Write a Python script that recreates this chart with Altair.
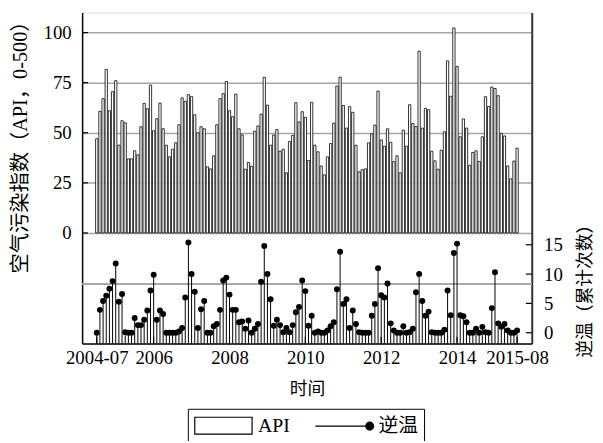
import altair as alt
import pandas as pd

# ---------------- data ----------------
months = pd.date_range("2004-07-01", periods=134, freq="MS").strftime("%Y-%m").tolist()

api = [
    47, 60.7, 67, 81.6, 61, 70.5, 76, 43.8, 56, 55,
    37, 37, 41, 39, 53, 64.6, 62, 73.8, 51, 57,
    64.8, 52, 43.8, 38, 41.8, 45, 54, 67.4, 65.7, 69,
    68, 59, 50, 53, 52, 33, 32, 38.5, 54, 67,
    69.5, 75.6,
    61, 58, 69.3, 52, 49, 31.8, 35.2, 33.3,
    50.8, 53.4, 59.3, 77.7, 63.8, 43.8, 48.9, 51.6, 40.8, 41.8,
    30, 45.6, 48.7, 65, 55.4, 60.5, 57.7, 36.2, 65.2, 43.8,
    40.5, 33.4, 29, 38, 44.6, 54.8, 73.3, 77.7, 63.6, 52.3,
    63, 60.2, 43.8, 30.5, 31.6, 32, 45, 49.5, 53.8,
    70.8, 46.4, 43.3, 52, 45.2, 35.6, 38.5, 30, 51.3, 43.3,
    64, 54.6, 53.1, 90.7, 52.3, 62.1, 61.5, 40.8, 36, 31.8,
    41.3, 50.5, 85.9, 68.2, 102.3, 83.1, 48, 56.9, 52.3, 33.8,
    40.2, 41, 35.7, 48, 68, 63.1, 72.8, 72.1, 68.5, 49.7,
    48.4, 33.4, 27, 35.9, 42.3,
]

inversion = [
    0, 3.9, 5.4, 6.3, 7.5, 8.8, 11.8, 5.3, 6.6, 0.1,
    0, 0, 2.5, 1.3, 1.3, 2.2, 3.8, 7.2, 9.9, 2.2,
    3.8, 3.2, 0, 0, 0, 0, 0.2, 0.8, 6, 15.4,
    10, 7, 0.8, 4, 5.4, 0, 0, 1.1, 1.5, 3.9,
    8.9, 9.4, 6.5, 3.9, 3.9, 1.8, 1.9, 0.7, 2.1, 0,
    0.7, 1.5, 8.7, 14.8, 10, 5.7, 1.2, 2.2, 1.3, 0.1,
    0.8, 0.1, 1.3, 3.5, 4.4, 8.9, 7.1, 1.2, 2.9, 0,
    0.2, 0, 0, 0.4, 1.1, 1.8, 7.4, 13.8, 4.9, 5.7,
    0.8, 3.8, 1.5, 0.1, 0, 0, 0, 2.9, 4.9, 11,
    6.4, 6, 8.4, 1.6, 0.4, 0, 0, 1.1, 0, 0.1,
    0.7, 6.9, 10, 5.4, 2.9, 3.6, 0.1, 0, 0, 0,
    0.5, 7.2, 3, 13.6, 15.2, 3, 2.8, 1.8, 0, 0,
    0.7, 0, 1, 0.1, 0, 4.2, 10.3, 1.6, 1, 1.5,
    0.4, 0, 0, 0.4,
]

x_tick_months = ["2004-07", "2006-01", "2008-01", "2010-01", "2012-01", "2014-01", "2015-08"]
x_tick_labels = ["2004-07", "2006", "2008", "2010", "2012", "2014", "2015-08"]
api_ticks = [0, 25, 50, 75, 100]
inv_ticks = [0, 5, 10, 15]
series = ["API", "逆温"]

# ---------------- tables ----------------
df = pd.DataFrame({"idx": list(range(len(months))), "month": months, "api": api, "inv": inversion})
x_tick_idx = [months.index(m) for m in x_tick_months]
xt_df = pd.DataFrame({"t": x_tick_idx})
at_df = pd.DataFrame({"v": api_ticks})
it_df = pd.DataFrame({"v": inv_ticks})
leg_df = pd.DataFrame({"series": series})

W, H = 455, 335
LATIN = "Liberation Serif"
MIXED = "Liberation Serif, Noto Sans CJK SC"

x_scale = alt.Scale(domain=[-3.07, len(months) + 2.07], nice=False, zero=False)
api_scale = alt.Scale(domain=[-55.2, 110], nice=False, zero=False)
inv_scale = alt.Scale(domain=[-1.85, 54.6], nice=False, zero=False)

label_expr = "".join(f"datum.value == {t} ? '{l}' : " for t, l in zip(x_tick_idx, x_tick_labels)) + "''"

x_axis = alt.Axis(
    orient="bottom", values=x_tick_idx, labelExpr=label_expr, ticks=False, grid=False,
    domainColor="black", domainWidth=1.5, labelPadding=5,
    labelFont=LATIN, labelFontSize=19, labelColor="black",
    title="时间", titleFont=MIXED, titleFontSize=18, titleFontWeight="normal",
    titleColor="black", titlePadding=14, labelOverlap=False, labelFlush=False,
)

left_axis = alt.Axis(
    orient="left", values=api_ticks, ticks=False, grid=True,
    gridColor="#a6a6a6", gridWidth=1.5, domainColor="black", domainWidth=1.5,
    labelPadding=11, labelFont=LATIN, labelFontSize=19, labelColor="black",
    title="空气污染指数（API，0-500）", titleFont=MIXED, titleFontSize=20.5,
    titleFontWeight="normal", titleColor="black", titlePadding=13, titleY=131,
)

right_axis = alt.Axis(
    orient="right", values=inv_ticks, ticks=False, grid=False,
    domainColor="#333333", domainWidth=2, labelPadding=12,
    labelFont=LATIN, labelFontSize=19, labelColor="black",
    title="逆温（累计次数）", titleFont=MIXED, titleFontSize=18,
    titleFontWeight="normal", titleColor="black", titlePadding=14,
    titleAngle=270, titleBaseline="top", titleY=277,
)

# ---------------- API group ----------------
bars = alt.Chart(df).mark_bar(fill="white", stroke="black", strokeWidth=0.8, width=2.3).encode(
    x=alt.X("idx:Q", scale=x_scale, axis=x_axis),
    y=alt.Y("api:Q", scale=api_scale, axis=left_axis),
    y2=alt.datum(0),
)
left_ticks = alt.Chart(at_df).mark_rule(color="black", strokeWidth=1.2).encode(
    y=alt.Y("v:Q", scale=api_scale), x=alt.value(0), x2=alt.value(6)
)
x_ticks = alt.Chart(xt_df).mark_rule(color="black", strokeWidth=1.2).encode(
    x=alt.X("t:Q", scale=x_scale), y=alt.value(H - 7), y2=alt.value(H)
)
api_group = alt.layer(bars, left_ticks, x_ticks)

# ---------------- inversion group ----------------
stems = alt.Chart(df).mark_rule(color="black", strokeWidth=1).encode(
    x=alt.X("idx:Q", scale=x_scale),
    y=alt.Y("inv:Q", scale=inv_scale, axis=right_axis),
    y2=alt.datum(-1.85),
)
dots = alt.Chart(df).mark_circle(size=36, color="black", opacity=1).encode(
    x=alt.X("idx:Q", scale=x_scale),
    y=alt.Y("inv:Q", scale=inv_scale),
)
right_ticks = alt.Chart(it_df).mark_rule(color="black", strokeWidth=1.2).encode(
    y=alt.Y("v:Q", scale=inv_scale), x=alt.value(W - 6), x2=alt.value(W)
)
ref_line = alt.Chart(it_df).mark_rule(color="#a6a6a6", strokeWidth=1.5).encode(
    y=alt.datum(8.26)
)

rect_path = "M-1,-0.85H4.8V0.85H-1Z"
line_path = "M-1,0H4.5M4.1,0A0.4,0.4,0,1,0,4.9,0A0.4,0.4,0,1,0,4.1,0Z"
legend = alt.Legend(
    orient="none", legendX=107, legendY=401, direction="horizontal", title=None,
    symbolSize=400, symbolStrokeColor="black", symbolStrokeWidth=1.2,
    labelFont=MIXED, labelFontSize=20, labelColor="black", labelOffset=43,
    columnPadding=22, padding=6, strokeColor="black", cornerRadius=0,
)
legend_layer = alt.Chart(leg_df).transform_filter("false").mark_point(
    filled=True, size=400, strokeWidth=1.2, opacity=1
).encode(
    shape=alt.Shape("series:N", scale=alt.Scale(domain=series, range=[rect_path, line_path]), legend=legend),
    fill=alt.Fill("series:N", scale=alt.Scale(domain=series, range=["white", "black"]), legend=legend),
    stroke=alt.Stroke("series:N", scale=alt.Scale(domain=series, range=["black", "black"]), legend=legend),
)

inv_group = alt.layer(ref_line, stems, dots, right_ticks, legend_layer)

chart = alt.layer(api_group, inv_group).resolve_scale(y="independent").properties(
    width=W, height=H,
    autosize=alt.AutoSizeParams(type="none"),
    padding={"left": 75, "top": 2, "right": 64, "bottom": 96},
).configure_view(stroke=None).configure(background="white")

chart.save("out.html", embed_options={"renderer": "svg", "actions": False})
